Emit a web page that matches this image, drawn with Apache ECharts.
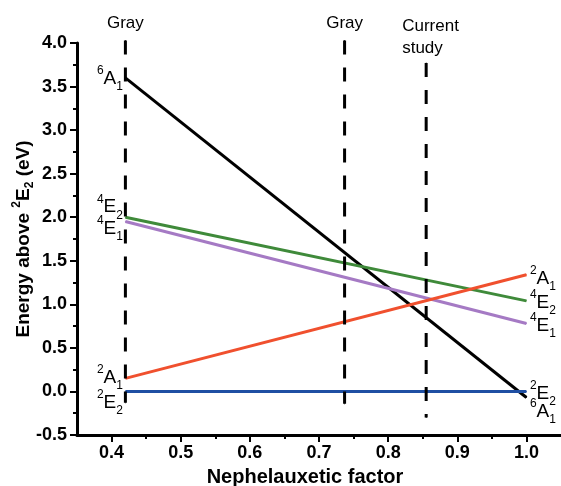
<!DOCTYPE html>
<html>
<head>
<meta charset="utf-8">
<script src="https://cdn.jsdelivr.net/npm/echarts@6/dist/echarts.min.js"></script>
<style>
  html, body { margin: 0; padding: 0; background: #fff; }
  #main { width: 561px; height: 486px; }
</style>
</head>
<body>
<div id="main"></div>
<script>
// energy levels (eV above 2E2) at the two ends of the lines
var levelSup   = ['6', '4', '4', '2', '2'];
var levelBase  = ['A', 'E', 'E', 'A', 'E'];
var levelSub   = ['1', '2', '1', '1', '2'];
var xStart = 0.42, xEnd = 1.0;
var startE = [3.6, 2.0, 1.95, 0.15, 0.0];
var endE   = [-0.07, 1.04, 0.78, 1.34, 0.0];

// dashed reference lines
var refX      = [0.42, 0.737, 0.855];
var refTop    = [4.03, 4.03, 3.77];
var refBottom = [-0.13, -0.14, -0.30];
var refText   = ['Gray', 'Gray', 'Current\nstudy'];

// ticks
var xTicks      = [0.4, 0.5, 0.6, 0.7, 0.8, 0.9, 1.0];
var xMinorTicks = [0.45, 0.55, 0.65, 0.75, 0.85, 0.95];

var colors = ['#000000', '#3f8a3a', '#a57ac4', '#f0502e', '#1f4fa3'];
// label nudges (px), order 6A1,4E2,4E1,2A1,2E2
var offL = [1, -10, 7, -1, 11];
var offR = [14, 2, 2, 4, 2];

var FONT = '"Liberation Sans", Arial, sans-serif';
var rich = {
  sup:  { fontSize: 12, verticalAlign: 'top', lineHeight: 28, fontFamily: FONT, color: '#000' },
  main: { fontSize: 19, lineHeight: 28, fontFamily: FONT, color: '#000' },
  sub:  { fontSize: 12, verticalAlign: 'bottom', lineHeight: 28, fontFamily: FONT, color: '#000' }
};

var myChart = echarts.init(document.getElementById('main'));
var series = [];

for (var i = 0; i < startE.length; i++) {
  var txt = '{sup|' + levelSup[i] + '}{main|' + levelBase[i] + '}{sub|' + levelSub[i] + '}';
  series.push({
    type: 'line',
    symbol: 'circle',
    symbolSize: 1,
    showSymbol: true,
    z: 2,
    lineStyle: { color: colors[i], width: 3 },
    itemStyle: { color: colors[i] },
    data: [
      { value: [xStart, startE[i]],
        label: { show: true, position: 'left', distance: 2, offset: [0, offL[i]], formatter: txt, rich: rich } },
      { value: [xEnd, endE[i]],
        label: { show: true, position: 'right', distance: 3, offset: [0, offR[i]], formatter: txt, rich: rich } }
    ]
  });
}

for (var j = 0; j < refX.length; j++) {
  var isCur = refText[j].indexOf('\n') >= 0;
  series.push({
    type: 'line',
    symbol: 'circle',
    symbolSize: 1,
    showSymbol: true,
    clip: false,
    z: 3,
    itemStyle: { color: '#000' },
    lineStyle: { color: '#000', width: 3, type: [14, 13] },
    data: [
      { value: [refX[j], refTop[j]],
        label: {
          show: true, position: 'top',
          distance: isCur ? 3 : 6,
          formatter: refText[j],
          align: isCur ? 'left' : 'center',
          offset: isCur ? [-24, 0] : [0, 0],
          fontFamily: FONT, fontSize: 17, color: '#000', lineHeight: 22
        } },
      { value: [refX[j], refBottom[j]] }
    ]
  });
}

var option = {
  animation: false,
  grid: { left: 77, right: 0, top: 43, bottom: 51, outerBoundsMode: 'none' },
  xAxis: [
    {
      type: 'value',
      min: 0.35, max: 1.05,
      name: 'Nephelauxetic factor',
      nameLocation: 'middle',
      nameGap: 32,
      nameMoveOverlap: false,
      nameTextStyle: { fontFamily: FONT, fontSize: 20, fontWeight: 'bold', color: '#000', padding: [0, 28, 0, 0] },
      axisLine: { onZero: false, lineStyle: { color: '#000', width: 3 } },
      axisTick: { length: 7, lineStyle: { width: 2, color: '#000' }, customValues: xTicks },
      axisLabel: {
        customValues: xTicks, margin: 9,
        fontFamily: FONT, fontSize: 18, fontWeight: 'bold', color: '#000',
        formatter: function (v) { return v.toFixed(1); }
      },
      splitLine: { show: false }
    },
    {
      type: 'value',
      min: 0.35, max: 1.05,
      position: 'bottom',
      axisLine: { show: false, onZero: false },
      axisTick: { length: 4, lineStyle: { width: 2, color: '#000' }, customValues: xMinorTicks },
      axisLabel: { show: false },
      splitLine: { show: false }
    }
  ],
  yAxis: {
    type: 'value',
    min: -0.5, max: 4.0, interval: 0.5,
    name: 'Energy above {sup|2}{b|E}{sub|2} (eV)',
    nameLocation: 'middle',
    nameGap: 41,
    nameMoveOverlap: false,
    nameTextStyle: {
      fontFamily: FONT, fontSize: 19, fontWeight: 'bold', color: '#000',
      rich: {
        sup: { fontSize: 12, fontWeight: 'bold', verticalAlign: 'top', lineHeight: 25, fontFamily: FONT, color: '#000' },
        b:   { fontSize: 19, fontWeight: 'bold', lineHeight: 25, fontFamily: FONT, color: '#000' },
        sub: { fontSize: 12, fontWeight: 'bold', verticalAlign: 'bottom', lineHeight: 25, fontFamily: FONT, color: '#000' }
      }
    },
    axisLine: { show: true, onZero: false, lineStyle: { color: '#000', width: 3 } },
    axisTick: { show: true, length: 7, lineStyle: { width: 2, color: '#000' } },
    minorTick: { show: true, splitNumber: 2, length: 4, lineStyle: { width: 2, color: '#000' } },
    axisLabel: {
      margin: 10,
      fontFamily: FONT, fontSize: 18, fontWeight: 'bold', color: '#000',
      formatter: function (v) { return v.toFixed(1); }
    },
    splitLine: { show: false }
  },
  series: series
};

myChart.setOption(option);
</script>
</body>
</html>
